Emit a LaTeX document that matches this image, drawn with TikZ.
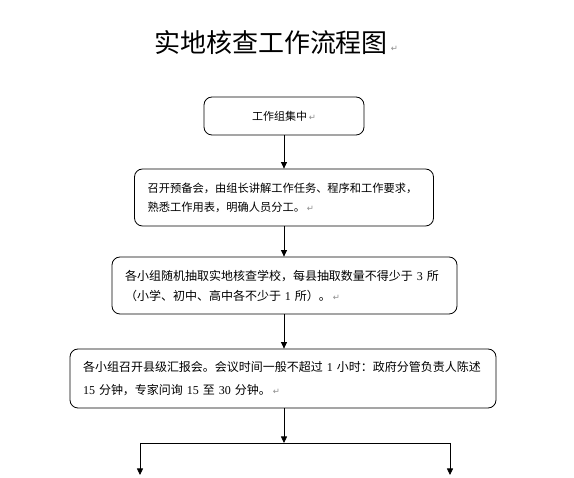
\documentclass[tikz,border=0pt]{standalone}
\usepackage{fontspec}
\setmainfont{Liberation Serif}
\newfontfamily\cjk{Noto Sans CJK SC}
\newfontfamily\symf{DejaVu Sans}
\usetikzlibrary{arrows.meta}
\definecolor{fg}{RGB}{0,0,0}
\definecolor{mk}{RGB}{140,140,140}
\newcommand{\lat}[1]{{\rmfamily #1}}
\newcommand{\pmark}{\,{\symf\color{mk}\fontsize{8.5}{8.5}\selectfont ↵}}
\tikzset{
  every picture/.style={fg, line width=0.8pt, >={Triangle[length=6.5pt,width=6pt]}},
  % Kästen (Textbreite = Kastenbreite - 26pt)
  box/.style={draw, rounded corners=8pt, inner xsep=13pt, inner ysep=0pt,
    text width=#1, minimum height=57pt, align=left},
  arr/.style={->},
  % Schrift
  title/.style={font=\cjk\fontsize{26}{30}\selectfont},
  body/.style 2 args={font=\cjk\fontsize{#1}{#2}\selectfont},
}
\begin{document}
\begin{tikzpicture}[x=1pt, y=-1pt]
  \useasboundingbox (0,0) rectangle (574,478);
  % ---------- Titel ----------
  \node[title] (ti) at (271,43) {实地核查工作流程图};
  \node[anchor=west, inner sep=0pt, xshift=-3pt] (tm) at ([yshift=-6pt]ti.east) {\pmark};
  % ---------- Kästen ----------
  \node[box=134pt, minimum height=38pt, align=center, body={11}{13}] (b1) at (284,116) {\raisebox{-3pt}{工作组集中\pmark}};
  \node[box=273pt, body={11.25}{19}] (b2) at (284,197.5)
    {召开预备会，由组长讲解工作任务、程序和工作要求，\\熟悉工作用表，明确人员分工。\pmark};
  \node[box=319pt, body={12}{20}] (b3) at (284.5,285.5)
    {各小组随机抽取实地核查学校，每县抽取数量不得少于 \lat{3} 所\\（小学、初中、高中各不少于 \lat{1} 所）。\pmark};
  \node[box=400pt, minimum height=59pt, body={12}{23}] (b4) at (283,378.5)
    {各小组召开县级汇报会。会议时间一般不超过 \lat{1} 小时：政府分管负责人陈述\\\lat{15} 分钟，专家问询 \lat{15} 至 \lat{30} 分钟。\pmark};
  % ---------- Verbindungen ----------
  \coordinate (j) at (284,443);
  \coordinate (jl) at (140,443);
  \coordinate (jr) at (450,443);
  \coordinate (el) at (140,475);
  \coordinate (er) at (450,475);
  \draw[arr] (b1.south) -- (b2.north);
  \draw[arr] (b2.south) -- (b3.north -| b2.south);
  \draw[arr] (b3.south -| b2.south) -- (b4.north -| b2.south);
  \draw[arr] (b4.south -| j) -- (j);
  \draw (jl) -- (jr);
  \draw[arr] (jl) -- (el);
  \draw[arr] (jr) -- (er);
\end{tikzpicture}
\end{document}
